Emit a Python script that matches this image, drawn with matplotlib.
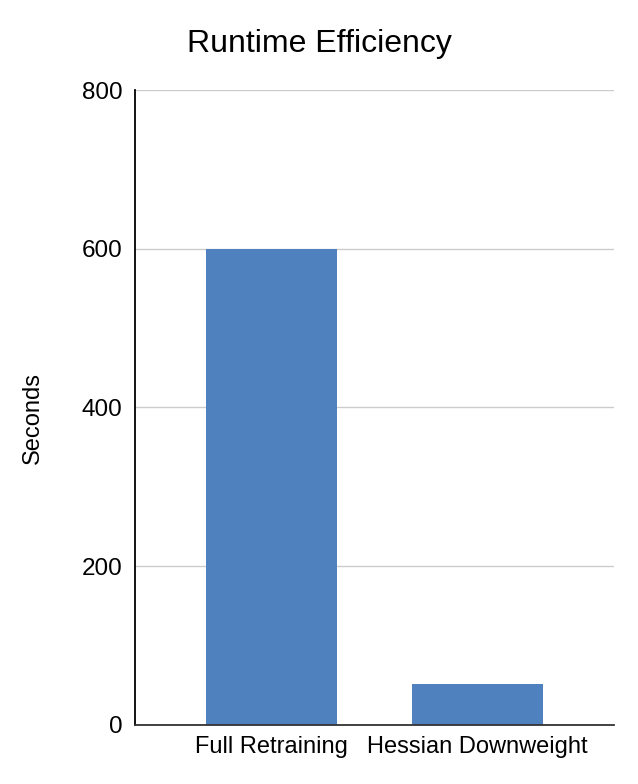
import matplotlib

matplotlib.use("Agg")
import matplotlib.pyplot as plt

categories = ["Full Retraining", "Hessian Downweight"]
seconds = [600, 52]
y_ticks = [0, 200, 400, 600, 800]

plt.rcParams["font.family"] = ["Liberation Sans", "DejaVu Sans"]

fig = plt.figure(figsize=(6.38, 7.84), dpi=100)
ax = fig.add_axes([0.2116, 0.0753, 0.7508, 0.8099])

x = range(len(categories))
ax.bar(x, seconds, width=0.634, color="#4f81bf", zorder=3)

ax.set_xlim(-0.66, 1.66)
ax.set_ylim(0, 800)
ax.set_yticks(y_ticks)
ax.set_xticks(list(x))
ax.set_xticklabels(categories, fontsize=17)
ax.tick_params(axis="y", labelsize=17.5, length=0, pad=9)
ax.tick_params(axis="x", length=0, pad=8)
ax.grid(axis="y", color="#cccccc", linewidth=1, zorder=0)

for side in ["top", "right"]:
    ax.spines[side].set_visible(False)
ax.spines["left"].set_color("black")
ax.spines["left"].set_linewidth(1.3)
ax.spines["bottom"].set_color("#333333")
ax.spines["bottom"].set_linewidth(1.3)
ax.spines["bottom"].set_zorder(4)

fig.text(0.0517, 0.467, "Seconds", rotation=90, ha="center", va="center", fontsize=17)
fig.text(0.5, 0.944, "Runtime Efficiency", ha="center", va="center", fontsize=23)

plt.savefig("out.png", dpi=100)
plt.close()
